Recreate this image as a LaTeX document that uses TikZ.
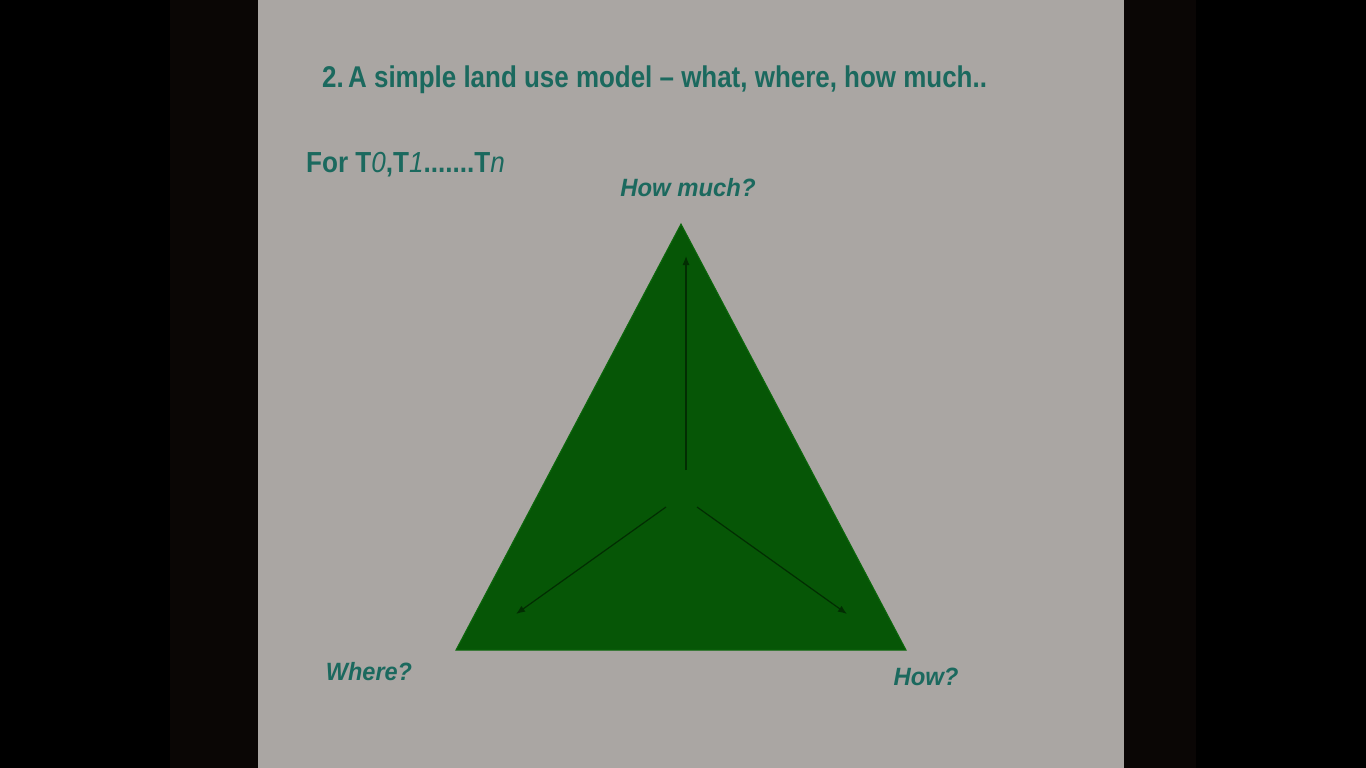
\documentclass[tikz,border=0pt]{standalone}
\usepackage{fontspec}
\setmainfont{Liberation Sans}
\usetikzlibrary{arrows.meta}
\definecolor{slidegray}{RGB}{170,166,163}
\definecolor{darkband}{RGB}{10,6,5}
\definecolor{teal}{RGB}{27,105,94}
\definecolor{trifill}{RGB}{6,86,6}
\definecolor{triedge}{RGB}{12,104,12}
\definecolor{arrowcol}{RGB}{2,45,2}
\tikzset{
  slidetext/.style={text=teal, inner sep=0pt, anchor=west, font=\bfseries},
  label/.style={text=teal, inner sep=0pt, font=\bfseries\itshape\fontsize{25}{25}\selectfont},
  connector/.style={draw=arrowcol, line width=1.2pt, -{Latex[length=9pt,width=7pt]}}
}
\begin{document}
\begin{tikzpicture}[x=1pt,y=-1pt]
\useasboundingbox (0,0) rectangle (1366,768);
\fill[black] (0,0) rectangle (1366,768);
\fill[darkband] (170,0) rectangle (1196,768);
\fill[slidegray] (258,0) rectangle (1124,768);
% triangle
\coordinate (apex) at (681,224);
\coordinate (bl) at (456,650);
\coordinate (br) at (906,650);
\fill[trifill, draw=triedge, line width=1pt] (apex) -- (bl) -- (br) -- cycle;
% connectors
\coordinate (c1) at (686,470);
\coordinate (t1) at (686,256);
\coordinate (c2) at (666,507);
\coordinate (t2) at (516,614);
\coordinate (c3) at (697,507);
\coordinate (t3) at (847,614);
\draw[connector] (c1) -- (t1);
\draw[connector] (c2) -- (t2);
\draw[connector] (c3) -- (t3);
% texts
\node[slidetext, anchor=base west] (title) at (322,88) {\scalebox{0.865}[1]{\fontsize{30}{30}\selectfont 2.\,A simple land use model -- what, where, how much..}};
\node[slidetext, anchor=base west] (for) at (306,172) {\scalebox{0.9}[1]{\fontsize{29}{29}\selectfont For T\textmd{\itshape 0},T\textmd{\itshape 1}.......T\textmd{\itshape n}}};
\node[label] (howmuch) at (688,188) {\scalebox{0.955}[1]{How much?}};
\node[label] (where) at (369,672) {\scalebox{0.94}[1]{Where?}};
\node[label] (how) at (926,677) {\scalebox{0.955}[1]{How?}};
\end{tikzpicture}
\end{document}
